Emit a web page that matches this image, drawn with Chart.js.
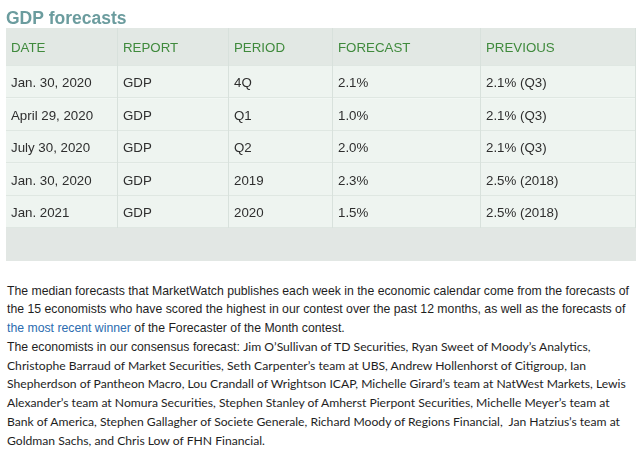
<!DOCTYPE html>
<html>
<head>
<meta charset="utf-8">
<script src="https://cdn.jsdelivr.net/npm/chart.js@4"></script>
<style>
    html, body { margin: 0; padding: 0; background: #ffffff; }
    body { width: 640px; height: 451px; position: relative; overflow: hidden; }
    #tableWrap { position: absolute; left: 0; top: 0; width: 640px; height: 262px; }
    #notes {
        position: absolute; left: 7px; top: 281.5px;
        font: 12.25px 'Liberation Sans', Arial, sans-serif;
        line-height: 18.75px; color: #1e1e1e; white-space: nowrap;
    }
    #notes a { color: #2b6cb0; text-decoration: none; }
    #notes .lato { font-family: Lato, sans-serif; font-size: 12.15px; }
</style>
</head>
<body>
<div id="tableWrap"><canvas id="gdpTable" width="640" height="262"></canvas></div>
<div id="notes">
    The median forecasts that MarketWatch publishes each week in the economic calendar come from the forecasts of<br>
    the 15 economists who have scored the highest in our contest over the past 12 months, as well as the forecasts of<br>
    <a href="#">the most recent winner</a> of the Forecaster of the Month contest.<br>
    The economists in our consensus forecast: <span class="lato">Jim O’Sullivan of TD Securities, Ryan Sweet of Moody’s Analytics,<br>
    Christophe Barraud of Market Securities, Seth Carpenter’s team at UBS, Andrew Hollenhorst of Citigroup, Ian<br>
    Shepherdson of Pantheon Macro, Lou Crandall of Wrightson ICAP, Michelle Girard’s team at NatWest Markets, Lewis<br>
    Alexander’s team at Nomura Securities, Stephen Stanley of Amherst Pierpont Securities, Michelle Meyer’s team at<br>
    Bank of America, Stephen Gallagher of Societe Generale, Richard Moody of Regions Financial, &nbsp;Jan Hatzius’s team at<br>
    Goldman Sachs, and Chris Low of FHN Financial.</span>
</div>
<script>
// table data
const COLUMNS = ['DATE', 'REPORT', 'PERIOD', 'FORECAST', 'PREVIOUS'];
const DATES = ['Jan. 30, 2020', 'April 29, 2020', 'July 30, 2020', 'Jan. 30, 2020', 'Jan. 2021'];
const REPORTS = ['GDP', 'GDP', 'GDP', 'GDP', 'GDP'];
const PERIODS = ['4Q', 'Q1', 'Q2', '2019', '2020'];
const FORECASTS = [2.1, 1.0, 2.0, 2.3, 1.5];
const PREVIOUS = [2.1, 2.1, 2.1, 2.5, 2.5];
const PREVIOUS_REF = ['Q3', 'Q3', 'Q3', '2018', '2018'];

// layout (table units = px inside the chart area)
const COL_WIDTHS = [112, 111, 104, 148, 155];
const HEADER_H = 38;
const ROW_H = 32.4;
const BLANK_H = 33;
const CELL_PAD = 5;

const COLORS = {
    title: '#6b9c9e',
    headerBg: '#e2e8e4',
    bodyBg: '#eef4f0',
    blankBg: '#e2e7e4',
    rowLine: '#dfe7e2',
    colLine: '#d8e1dc',
    headerText: '#3f8a3c',
    bodyText: '#2e2e2e'
};

const FONT = "13.3px 'Liberation Sans', Arial, sans-serif";

// build rows of strings from the arrays
const bodyRows = DATES.map((d, i) => [
    d,
    REPORTS[i],
    PERIODS[i],
    FORECASTS[i].toFixed(1) + '%',
    PREVIOUS[i].toFixed(1) + '% (' + PREVIOUS_REF[i] + ')'
]);

const colEdges = [0];
COL_WIDTHS.forEach(w => colEdges.push(colEdges[colEdges.length - 1] + w));
const TABLE_W = colEdges[colEdges.length - 1];

const rowEdges = [0, HEADER_H];
bodyRows.forEach(() => rowEdges.push(rowEdges[rowEdges.length - 1] + ROW_H));
rowEdges.push(rowEdges[rowEdges.length - 1] + BLANK_H);
const TABLE_H = rowEdges[rowEdges.length - 1];

// draws the cells through the chart's scales
const tablePlugin = {
    id: 'tableCells',
    beforeDatasetsDraw(chart) {
        const ctx = chart.ctx;
        const xs = chart.scales.x;
        const ys = chart.scales.y;
        const px = v => xs.getPixelForValue(v);
        const py = v => ys.getPixelForValue(v);
        const nRows = rowEdges.length - 1;

        ctx.save();

        // backgrounds
        for (let r = 0; r < nRows; r++) {
            let bg = COLORS.bodyBg;
            if (r === 0) bg = COLORS.headerBg;
            if (r === nRows - 1) bg = COLORS.blankBg;
            ctx.fillStyle = bg;
            ctx.fillRect(px(0), py(rowEdges[r]), px(TABLE_W) - px(0), py(rowEdges[r + 1]) - py(rowEdges[r]));
        }

        // row lines
        ctx.lineWidth = 1;
        ctx.strokeStyle = COLORS.rowLine;
        for (let r = 1; r < nRows; r++) {
            const y = Math.round(py(rowEdges[r])) - 0.5;
            ctx.beginPath();
            ctx.moveTo(px(0), y);
            ctx.lineTo(px(TABLE_W), y);
            ctx.stroke();
        }

        // column lines (header + body only)
        ctx.strokeStyle = COLORS.colLine;
        const yTop = py(rowEdges[0]);
        const yBot = py(rowEdges[nRows - 1]);
        for (let c = 1; c < colEdges.length; c++) {
            const x = Math.round(px(colEdges[c])) - 0.5;
            ctx.beginPath();
            ctx.moveTo(x, yTop);
            ctx.lineTo(x, yBot);
            ctx.stroke();
        }

        // text
        ctx.font = FONT;
        ctx.textBaseline = 'middle';
        ctx.textAlign = 'left';
        const drawRow = (cells, r, color) => {
            const yMid = py((rowEdges[r] + rowEdges[r + 1]) / 2) + 1.5;
            ctx.fillStyle = color;
            cells.forEach((txt, c) => {
                ctx.fillText(txt, px(colEdges[c]) + CELL_PAD, yMid);
            });
        };
        drawRow(COLUMNS, 0, COLORS.headerText);
        bodyRows.forEach((cells, i) => drawRow(cells, i + 1, COLORS.bodyText));

        ctx.restore();
    }
};

const gdpChart = new Chart(document.getElementById('gdpTable').getContext('2d'), {
    type: 'scatter',
    data: { datasets: [] },
    options: {
        responsive: false,
        animation: false,
        devicePixelRatio: 1,
        layout: { padding: { left: 6, right: 4, top: 0, bottom: 1 } },
        plugins: {
            legend: { display: false },
            tooltip: { enabled: false },
            title: {
                display: true,
                text: 'GDP forecasts',
                align: 'start',
                color: COLORS.title,
                font: { family: "'Liberation Sans', Arial, sans-serif", size: 17.5, weight: 'bold', lineHeight: 1.0 },
                padding: { top: 10.5, bottom: 0 }
            }
        },
        scales: {
            x: { type: 'linear', min: 0, max: TABLE_W, display: false },
            y: { type: 'linear', min: 0, max: TABLE_H, reverse: true, display: false }
        }
    },
    plugins: [tablePlugin]
});
</script>
</body>
</html>
